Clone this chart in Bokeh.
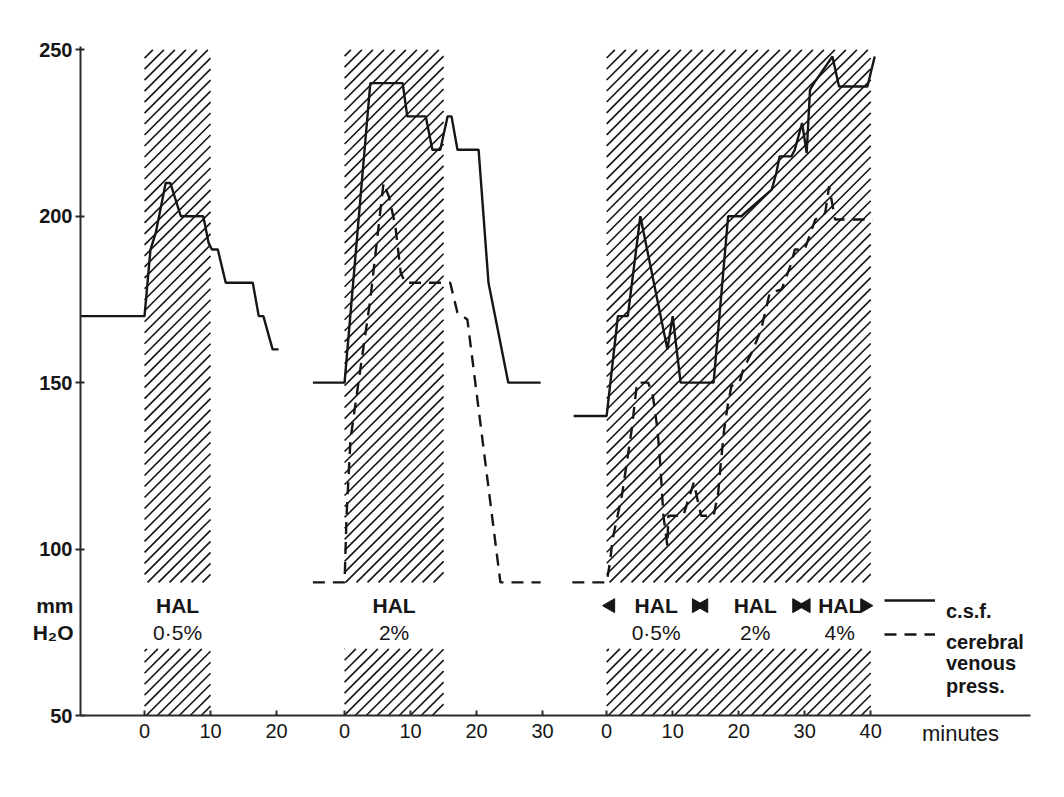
import math
from bokeh.plotting import figure
from bokeh.models import FixedTicker, Legend, LegendItem, Label
from bokeh.core.properties import value
from bokeh.embed import file_html
from bokeh.resources import INLINE

# ---------------- data ----------------
# three experiments laid side by side on one time axis
panel_offsets = [0.0, 30.3, 70.0]
panel_tick_minutes = [[0, 10, 20], [0, 10, 20, 30], [0, 10, 20, 30, 40]]
y_ticks = [50, 100, 150, 200, 250]

# halothane administration periods (minutes, per panel)
hal_start = [0, 0, 0]
hal_end = [10, 15, 40]
hatch_upper = [90, 250]
hatch_lower = [50, 70]

# panel 1: HAL 0.5 %
p1_csf_t = [-9.7, 0, 0.9, 1.7, 3.2, 3.9, 5.5, 8.9, 9.7, 10.2, 11.1, 12.3, 16.4, 17.3, 18.0, 19.4, 20.3]
p1_csf = [170, 170, 190, 195, 210, 210, 200, 200, 192, 190, 190, 180, 180, 170, 170, 160, 160]

# panel 2: HAL 2 %
p2_csf_t = [-4.8, 0, 3.9, 8.8, 9.5, 12.3, 13.3, 14.5, 15.6, 16.2, 17.1, 20.3, 21.8, 24.8, 29.7]
p2_csf = [150, 150, 240, 240, 230, 230, 220, 220, 230, 230, 220, 220, 180, 150, 150]
p2_cvp_t = [-4.8, 0, 0.3, 0.9, 2.1, 3.9, 5.9, 6.7, 7.7, 8.5, 9.2, 16.0, 17.1, 18.6, 23.6, 29.7]
p2_cvp = [90, 90, 110, 133, 150, 175, 210, 206, 197, 183, 180, 180, 171, 169, 90, 90]

# panel 3: HAL 0.5 % -> 2 % -> 4 %
p3_csf_t = [-5.0, 0, 1.7, 3.2, 5.1, 9.2, 10.0, 11.2, 16.2, 18.4, 20.4, 25.0, 25.7, 26.2, 28.0,
            28.5, 29.6, 30.3, 30.8, 31.4, 34.2, 35.2, 39.5, 40.6]
p3_csf = [140, 140, 170, 170, 200, 160, 170, 150, 150, 200, 200, 208, 213, 218, 218,
          220, 228, 219, 238, 240, 248, 239, 239, 248]
p3_cvp_t = [-5.2, 0, 0.5, 0.9, 2.3, 3.2, 3.8, 4.6, 6.3, 7.0, 7.7, 8.1, 8.6, 9.2, 9.35, 11.6,
            13.2, 14.3, 16.2, 16.9, 17.3, 17.8, 18.4, 18.9, 20.1, 20.7, 22.2, 23.4, 24.7,
            26.5, 28.0, 28.5, 30.0, 31.6, 33.1, 33.7, 34.6, 40.3]
p3_cvp = [90, 90, 96, 103, 116, 128, 136, 150, 150, 146, 136, 126, 110, 101, 110, 110,
          120, 110, 110, 117, 126, 136, 144, 149, 150, 154, 160, 166, 177,
          178, 186, 190, 190, 199, 201, 209, 199, 199]

# HAL annotations
hal_label_panel = [0, 1, 2, 2, 2]
hal_label_t = [5.0, 7.5, 7.5, 22.5, 35.3]
hal_label_name = ["HAL", "HAL", "HAL", "HAL", "HAL"]
hal_label_conc = ["0·5%", "2%", "0·5%", "2%", "4%"]
hal_name_level = 83
hal_conc_level = 75

# arrow-head markers bounding each concentration period (panel 3)
marker_t = [0.6, 13.6, 14.7, 28.8, 30.2, 39.1]
marker_dir = ["left", "right", "left", "right", "left", "right"]

# axis / legend texts
unit_text = ["mm", "H₂O"]
x_unit_text = "minutes"
x_unit_pos = 123.6
legend_texts = ["c.s.f.", "cerebral", "venous", "press."]
legend_text_levels = [81.4, 72.1, 65.8, 58.9]
legend_text_x = 121.4

# ---------------- figure ----------------
INK = "#161616"
FONT = "Liberation Sans"
X0, X1 = -9.7, 134.2
Y0, Y1 = 50, 251
W, H = 1048, 780
BL, BR, BT, BB = 80, 18, 45, 65

p = figure(width=W, height=H, x_range=(X0, X1), y_range=(Y0, Y1), title=None,
           output_backend="svg", toolbar_location=None,
           min_border_left=BL, min_border_right=BR, min_border_top=BT, min_border_bottom=BB)
p.background_fill_color = "white"
p.border_fill_color = "white"
p.outline_line_color = None
p.xgrid.visible = False
p.ygrid.visible = False


def xs(panel, ts):
    return [panel_offsets[panel] + t for t in ts]


# hatched halothane periods: 45-degree lines (on screen) clipped to each period band
px_per_x = (W - BL - BR) / (X1 - X0)
px_per_y = (H - BT - BB) / (Y1 - Y0)
slope = px_per_x / px_per_y          # data-y per data-x for a 45 degree line
spacing = 11 / px_per_x              # horizontal gap between hatch lines
hx0, hy0, hx1, hy1 = [], [], [], []
for i in range(3):
    left = panel_offsets[i] + hal_start[i]
    right = panel_offsets[i] + hal_end[i]
    for bottom, top in (hatch_upper, hatch_lower):
        # lines: x = c + y / slope
        c_min = left - top / slope
        c_max = right - bottom / slope
        k = math.floor(c_min / spacing)
        while k * spacing <= c_max:
            c = k * spacing
            ya = max(bottom, slope * (left - c))
            yb = min(top, slope * (right - c))
            if yb > ya:
                hx0.append(c + ya / slope)
                hy0.append(ya)
                hx1.append(c + yb / slope)
                hy1.append(yb)
            k += 1
p.segment(hx0, hy0, hx1, hy1, line_color=INK, line_width=1.6)

# curves
solid = dict(line_width=2.4, line_color=INK)
dashed = dict(line_width=2.4, line_color=INK, line_dash="12 8")
r_csf = p.line(xs(0, p1_csf_t), p1_csf, **solid)
p.line(xs(1, p2_csf_t), p2_csf, **solid)
p.line(xs(2, p3_csf_t), p3_csf, **solid)
r_cvp = p.line(xs(1, p2_cvp_t), p2_cvp, **dashed)
p.line(xs(2, p3_cvp_t), p3_cvp, **dashed)

# HAL labels
lab_x = [panel_offsets[pi] + t for pi, t in zip(hal_label_panel, hal_label_t)]
p.text(x=lab_x, y=[hal_name_level] * len(lab_x), text=hal_label_name,
       text_font=value(FONT), text_font_size="21px", text_font_style="bold",
       text_align="center", text_baseline="middle", text_color=INK)
p.text(x=lab_x, y=[hal_conc_level] * len(lab_x), text=hal_label_conc,
       text_font=value(FONT), text_font_size="21px",
       text_align="center", text_baseline="middle", text_color=INK)

angles = [math.pi / 2 if d == "left" else -math.pi / 2 for d in marker_dir]
p.scatter(x=xs(2, marker_t), y=[hal_name_level] * len(marker_t), marker="triangle",
          size=14, angle=angles, fill_color=INK, line_color=INK)

# axes
xt, xo = [], {}
for off, ticks in zip(panel_offsets, panel_tick_minutes):
    for t in ticks:
        xt.append(off + t)
        xo[off + t] = str(t)
p.xaxis.ticker = FixedTicker(ticks=xt, minor_ticks=[])
p.xaxis.major_label_overrides = xo
p.yaxis.ticker = FixedTicker(ticks=y_ticks, minor_ticks=[])
for ax in (p.xaxis, p.yaxis):
    ax.axis_line_width = 2
    ax.axis_line_color = "#2a2a2a"
    ax.major_tick_line_color = "#2a2a2a"
    ax.major_tick_line_width = 2
    ax.major_label_text_font = FONT
    ax.major_label_text_color = INK
p.xaxis.major_tick_in = 5
p.xaxis.major_tick_out = 0
p.xaxis.major_label_standoff = 8
p.xaxis.major_label_text_font_size = "20px"
p.yaxis.major_tick_in = 4
p.yaxis.major_tick_out = 5
p.yaxis.major_label_standoff = 3
p.yaxis.major_label_text_font_size = "20px"
p.yaxis.major_label_text_font_style = "bold"

# unit texts, drawn from side panels so that they are not clipped by the frame
for lvl, txt in zip([hal_name_level, hal_conc_level], unit_text):
    p.add_layout(Label(x=X0, y=lvl, x_offset=-7, text=txt, text_align="right",
                       text_baseline="middle", text_font=FONT, text_font_size="21px",
                       text_font_style="bold", text_color=INK), "above")
p.add_layout(Label(x=x_unit_pos, y=Y0, y_offset=-18, text=x_unit_text, text_align="center",
                   text_baseline="middle", text_font=FONT, text_font_size="22px",
                   text_color=INK), "below")

# legend (sample lines) + its texts
legend = Legend(items=[LegendItem(label=" ", renderers=[r_csf]),
                       LegendItem(label=" ", renderers=[r_cvp])],
                location=(804, 71), orientation="vertical",
                border_line_alpha=0, background_fill_alpha=0, padding=0, margin=0,
                glyph_width=51, glyph_height=20, label_height=20, label_standoff=0, spacing=14,
                label_text_font=FONT, label_text_font_size="20px", label_text_color=INK)
p.add_layout(legend)
p.text(x=[legend_text_x] * len(legend_texts), y=legend_text_levels, text=legend_texts,
       text_font=value(FONT), text_font_size="20px", text_font_style="bold",
       text_align="left", text_baseline="middle", text_color=INK)

open("out.html", "w").write(file_html(p, INLINE))
